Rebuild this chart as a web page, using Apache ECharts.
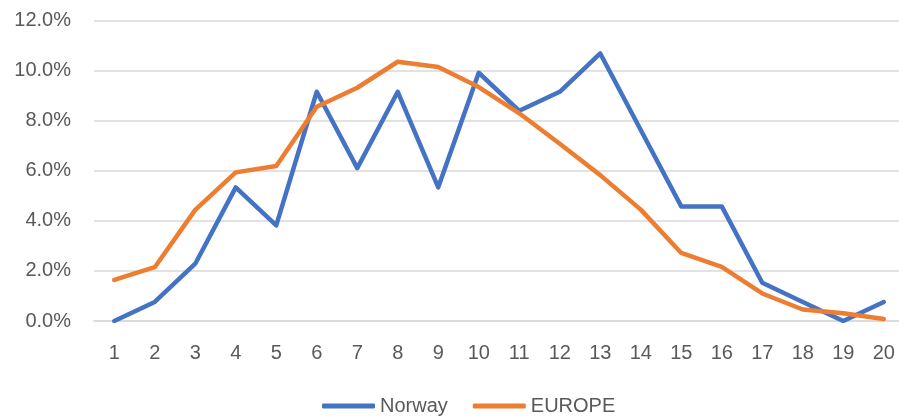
<!DOCTYPE html>
<html>
<head>
<meta charset="utf-8">
<script src="https://cdn.jsdelivr.net/npm/echarts@6/dist/echarts.min.js"></script>
<style>html,body{margin:0;padding:0;background:#fff}#c{width:899px;height:418px}</style>
</head>
<body>
<div id="c"></div>
<script>
const categories = ['1','2','3','4','5','6','7','8','9','10','11','12','13','14','15','16','17','18','19','20'];
const norway = [0, 0.76, 2.29, 5.34, 3.82, 9.16, 6.11, 9.16, 5.34, 9.92, 8.40, 9.16, 10.69, 7.63, 4.58, 4.58, 1.53, 0.76, 0, 0.76];
const europe = [1.64, 2.15, 4.44, 5.94, 6.19, 8.56, 9.32, 10.36, 10.15, 9.35, 8.30, 7.08, 5.83, 4.45, 2.72, 2.16, 1.10, 0.46, 0.31, 0.08];
const yTicks = { min: 0, max: 12, interval: 2 };

const font = 'Liberation Sans';
const chart = echarts.init(document.getElementById('c'), null, { renderer: 'canvas' });
chart.setOption({
  animation: false,
  textStyle: { fontFamily: font },
  grid: { left: 94, top: 20.7, bottom: 97, width: 810, containLabel: false, outerBoundsMode: 'none' },
  legend: {
    top: 391, left: 317,
    itemWidth: 53, itemHeight: 5, itemGap: 25,
    icon: 'roundRect',
    textStyle: { color: '#595959', fontSize: 20, fontFamily: font, width: 74 },
    data: ['Norway', 'EUROPE']
  },
  xAxis: {
    type: 'category', data: categories, boundaryGap: true,
    axisLine: { show: true, lineStyle: { color: '#D9D9D9', width: 1.5 } },
    axisTick: { show: false },
    axisLabel: { color: '#595959', fontSize: 20, margin: 22, fontFamily: font, interval: 0 }
  },
  yAxis: {
    type: 'value', min: yTicks.min, max: yTicks.max, interval: yTicks.interval,
    axisLine: { show: false }, axisTick: { show: false },
    splitLine: { lineStyle: { color: '#D9D9D9', width: 1.5 } },
    axisLabel: { color: '#595959', fontSize: 20, margin: 23, fontFamily: font,
      formatter: v => v.toFixed(1) + '%' }
  },
  series: [
    { name: 'Norway', type: 'line', data: norway, showSymbol: false, symbol: 'none',
      lineStyle: { color: '#4472C4', width: 4.5, cap: 'round', join: 'round' },
      itemStyle: { color: '#4472C4' } },
    { name: 'EUROPE', type: 'line', data: europe, showSymbol: false, symbol: 'none',
      lineStyle: { color: '#ED7D31', width: 4.5, cap: 'round', join: 'round' },
      itemStyle: { color: '#ED7D31' } }
  ]
});
</script>
</body>
</html>
